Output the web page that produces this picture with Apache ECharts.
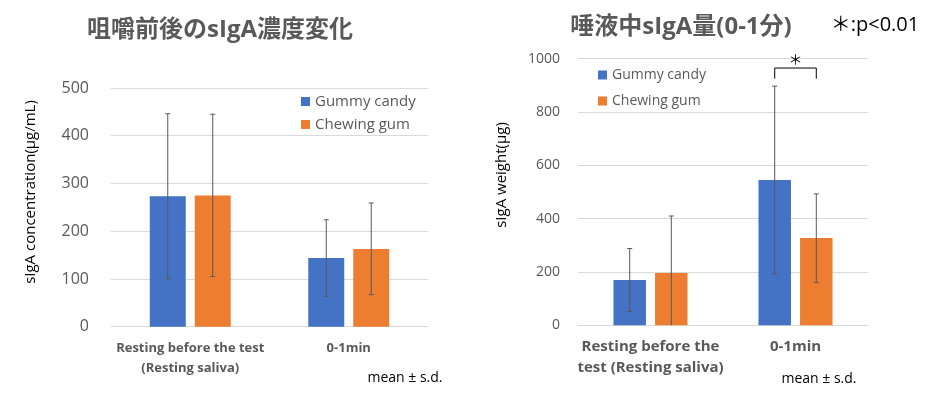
<!DOCTYPE html>
<html>
<head>
<meta charset="utf-8">
<script src="https://cdn.jsdelivr.net/npm/echarts@6/dist/echarts.min.js"></script>
<style>
html,body{margin:0;padding:0;background:#fff;}
#chart{width:934px;height:395px;}
</style>
</head>
<body>
<div id="chart"></div>
<script>
// ---- Data ----
const seriesNames = ['Gummy candy', 'Chewing gum'];

const leftTitle = '咀嚼前後のsIgA濃度変化';
const leftYName = 'sIgA concentration(μg/mL)';
const leftCategories = ['Resting before the test\n(Resting saliva)', '0-1min'];
const leftGummy = [273, 144];
const leftGummySD = [173, 80];
const leftChewing = [275, 163];
const leftChewingSD = [170, 96];
const leftYMax = 500;
const leftYInterval = 100;

const rightTitle = '唾液中sIgA量(0-1分)';
const rightNote = '＊:p<0.01';
const rightYName = 'sIgA weight(μg)';
const rightCategories = ['Resting before the\ntest (Resting saliva)', '0-1min'];
const rightGummy = [170, 545];
const rightGummySD = [118, 352];
const rightChewing = [196, 327];
const rightChewingSD = [214, 166];
const rightYMax = 1000;
const rightYInterval = 200;

// significance bracket: [category index, top value, leg bottom value]
const sigBracket = [[1, 965, 925]];
const sigMark = '＊';
const footNote = 'mean ± s.d.';

// ---- Styles ----
const FONT = "'Open Sans', 'Noto Sans CJK JP', sans-serif";
const BLUE = '#4472C4';
const ORANGE = '#ED7D31';
const GRAY = '#595959';
const GRID_LINE = '#d9d9d9';
const LEFT_BAR = 0.227, LEFT_GAP = 0.25;
const RIGHT_BAR = 0.224, RIGHT_GAP = 0.28;

function errorRender(sign, barRatio, gapRatio) {
  return function (params, api) {
    const cat = api.value(0), mean = api.value(1), sd = api.value(2);
    const band = api.size([1, 0])[0];
    const bw = band * barRatio;
    const off = sign * bw * (1 + gapRatio) / 2;
    const low = Math.max(0, mean - sd);
    const top = api.coord([cat, mean + sd]);
    const bot = api.coord([cat, low]);
    const x = top[0] + off;
    const st = { stroke: GRAY, lineWidth: 1 };
    const children = [
      { type: 'line', shape: { x1: x, y1: top[1], x2: x, y2: bot[1] }, style: st },
      { type: 'line', shape: { x1: x - 2.5, y1: top[1], x2: x + 2.5, y2: top[1] }, style: st }
    ];
    if (mean - sd > 0) {
      children.push({ type: 'line', shape: { x1: x - 2.5, y1: bot[1], x2: x + 2.5, y2: bot[1] }, style: st });
    }
    return { type: 'group', children: children };
  };
}

function bracketRender(barRatio, gapRatio) {
  return function (params, api) {
    const cat = api.value(0), topV = api.value(1), botV = api.value(2);
    const band = api.size([1, 0])[0];
    const off = band * barRatio * (1 + gapRatio) / 2;
    const t = api.coord([cat, topV]);
    const b = api.coord([cat, botV]);
    const x1 = t[0] - off, x2 = t[0] + off;
    return {
      type: 'group',
      children: [
        { type: 'polyline', shape: { points: [[x1, b[1]], [x1, t[1]], [x2, t[1]], [x2, b[1]]] },
          style: { stroke: '#000', lineWidth: 1, fill: null } },
        { type: 'text', x: t[0], y: t[1] - 8,
          style: { text: sigMark, fontSize: 14, fontFamily: FONT, fill: '#000', align: 'center', verticalAlign: 'middle' } }
      ]
    };
  };
}

const chart = echarts.init(document.getElementById('chart'), null, { renderer: 'canvas' });

const xAxisCommon = {
  type: 'category',
  axisTick: { show: false },
  axisLine: { lineStyle: { color: GRID_LINE } },
};
const yAxisCommon = {
  type: 'value', min: 0,
  axisLine: { show: false }, axisTick: { show: false },
  splitLine: { lineStyle: { color: GRID_LINE } },
};

const option = {
  animation: false,
  textStyle: { fontFamily: FONT },
  grid: [
    { left: 111, right: 506, top: 88, bottom: 68.3 },
    { left: 578, right: 66, top: 58.7, bottom: 69.7 }
  ],
  xAxis: [
    Object.assign({}, xAxisCommon, { gridIndex: 0, data: leftCategories,
      axisLabel: { interval: 0, color: GRAY, fontSize: 13, fontWeight: 'bold', lineHeight: 20, margin: 12, fontFamily: FONT } }),
    Object.assign({}, xAxisCommon, { gridIndex: 1, data: rightCategories,
      axisLabel: { interval: 0, color: GRAY, fontSize: 15, fontWeight: 'bold', lineHeight: 21, margin: 11, fontFamily: FONT } })
  ],
  yAxis: [
    Object.assign({}, yAxisCommon, { gridIndex: 0, max: leftYMax, interval: leftYInterval,
      axisLabel: { color: GRAY, fontSize: 16, margin: 22, fontFamily: FONT } }),
    Object.assign({}, yAxisCommon, { gridIndex: 1, max: rightYMax, interval: rightYInterval,
      axisLabel: { color: GRAY, fontSize: 14, margin: 18, fontFamily: FONT, formatter: function (v) { return String(v); } } })
  ],
  legend: [
    { data: seriesNames, orient: 'vertical', left: 296, top: 89, itemWidth: 9, itemHeight: 9, itemGap: 8,
      icon: 'rect', textStyle: { color: GRAY, fontSize: 15, lineHeight: 15, fontFamily: FONT } },
    { data: seriesNames, orient: 'vertical', left: 593, top: 63, itemWidth: 9, itemHeight: 9, itemGap: 12,
      icon: 'rect', textStyle: { color: GRAY, fontSize: 14, lineHeight: 14, fontFamily: FONT } }
  ],
  series: [
    { name: seriesNames[0], type: 'bar', xAxisIndex: 0, yAxisIndex: 0, data: leftGummy,
      barWidth: (LEFT_BAR * 100) + '%', barGap: (LEFT_GAP * 100) + '%', itemStyle: { color: BLUE } },
    { name: seriesNames[1], type: 'bar', xAxisIndex: 0, yAxisIndex: 0, data: leftChewing,
      barWidth: (LEFT_BAR * 100) + '%', barGap: (LEFT_GAP * 100) + '%', itemStyle: { color: ORANGE } },
    { name: seriesNames[0], type: 'bar', xAxisIndex: 1, yAxisIndex: 1, data: rightGummy,
      barWidth: (RIGHT_BAR * 100) + '%', barGap: (RIGHT_GAP * 100) + '%', itemStyle: { color: BLUE } },
    { name: seriesNames[1], type: 'bar', xAxisIndex: 1, yAxisIndex: 1, data: rightChewing,
      barWidth: (RIGHT_BAR * 100) + '%', barGap: (RIGHT_GAP * 100) + '%', itemStyle: { color: ORANGE } },
    { type: 'custom', xAxisIndex: 0, yAxisIndex: 0, z: 5, encode: { x: 0, y: 1 },
      data: leftGummy.map((v, i) => [i, v, leftGummySD[i]]), renderItem: errorRender(-1, LEFT_BAR, LEFT_GAP) },
    { type: 'custom', xAxisIndex: 0, yAxisIndex: 0, z: 5, encode: { x: 0, y: 1 },
      data: leftChewing.map((v, i) => [i, v, leftChewingSD[i]]), renderItem: errorRender(1, LEFT_BAR, LEFT_GAP) },
    { type: 'custom', xAxisIndex: 1, yAxisIndex: 1, z: 5, encode: { x: 0, y: 1 },
      data: rightGummy.map((v, i) => [i, v, rightGummySD[i]]), renderItem: errorRender(-1, RIGHT_BAR, RIGHT_GAP) },
    { type: 'custom', xAxisIndex: 1, yAxisIndex: 1, z: 5, encode: { x: 0, y: 1 },
      data: rightChewing.map((v, i) => [i, v, rightChewingSD[i]]), renderItem: errorRender(1, RIGHT_BAR, RIGHT_GAP) },
    { type: 'custom', xAxisIndex: 1, yAxisIndex: 1, z: 5, encode: { x: 0, y: 1 }, clip: false,
      data: sigBracket, renderItem: bracketRender(RIGHT_BAR, RIGHT_GAP) }
  ],
  graphic: [
    { type: 'text', x: 220, y: 30, style: { text: leftTitle, fontSize: 24, fontWeight: 'bold', fontFamily: FONT, fill: GRAY, align: 'center', verticalAlign: 'middle' } },
    { type: 'text', x: 681, y: 27, style: { text: rightTitle, fontSize: 24, fontWeight: 'bold', fontFamily: FONT, fill: GRAY, align: 'center', verticalAlign: 'middle' } },
    { type: 'text', x: 875, y: 25, style: { text: rightNote, fontSize: 20, fontFamily: FONT, fill: '#000', align: 'center', verticalAlign: 'middle' } },
    { type: 'text', x: 31, y: 192, rotation: Math.PI / 2, style: { text: leftYName, fontSize: 15, fontFamily: FONT, fill: '#000', align: 'center', verticalAlign: 'middle' } },
    { type: 'text', x: 502, y: 175, rotation: Math.PI / 2, style: { text: rightYName, fontSize: 15, fontFamily: FONT, fill: '#000', align: 'center', verticalAlign: 'middle' } },
    { type: 'text', x: 405, y: 378, style: { text: footNote, fontSize: 14, fontFamily: FONT, fill: '#000', align: 'center', verticalAlign: 'middle' } },
    { type: 'text', x: 819, y: 379, style: { text: footNote, fontSize: 14, fontFamily: FONT, fill: '#000', align: 'center', verticalAlign: 'middle' } }
  ]
};
chart.setOption(option);
</script>
</body>
</html>
